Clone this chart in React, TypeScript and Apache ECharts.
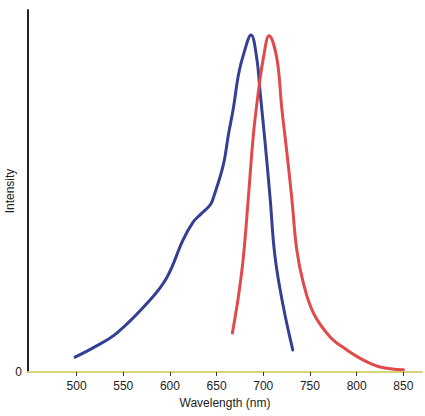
import React, { useEffect, useRef } from "react";
import * as echarts from "echarts";

const blueWavelength = [498.4, 520.0, 543.4, 578.7, 596.9, 614.1, 624.8, 632.3, 643.0, 646.5, 657.2, 662.6, 668.0, 673.3, 678.7, 686.9, 693.0, 696.6, 701.9, 707.3, 712.6, 721.5, 731.6];
const blueIntensity = [4.1, 7.0, 10.8, 19.9, 26.2, 36.5, 41.4, 43.4, 46.1, 48.1, 57.2, 65.5, 72.9, 82.0, 87.6, 93.1, 86.7, 77.3, 63.5, 48.1, 31.8, 18.0, 6.1];

const redWavelength = [666.9, 673.3, 678.7, 684.0, 689.4, 694.7, 700.1, 706.2, 714.5, 719.8, 725.2, 730.5, 735.9, 742.9, 753.7, 771.6, 789.5, 807.2, 825.1, 850.1];
const redIntensity = [10.8, 20.7, 31.8, 48.1, 65.5, 77.3, 86.7, 92.9, 86.7, 72.9, 60.8, 48.1, 33.7, 24.6, 16.3, 9.7, 6.1, 3.3, 1.4, 0.6];

const xTicks = [500, 550, 600, 650, 700, 750, 800, 850];

export default function App() {
  const ref = useRef<HTMLDivElement>(null);
  useEffect(() => {
    const chart = echarts.init(ref.current!, null, { renderer: "svg" });
    const font = "'Liberation Sans', Arial, sans-serif";
    chart.setOption({
      animation: false,
      backgroundColor: "#ffffff",
      grid: { left: 28, top: 10, right: 3, bottom: 44, containLabel: false, outerBoundsMode: "none" },
      xAxis: {
        type: "value",
        min: 448,
        max: 870,
        name: "Wavelength (nm)",
        nameLocation: "middle",
        nameGap: 25,
        nameTextStyle: { fontFamily: font, fontSize: 12, color: "#222" },
        axisLine: { show: true, lineStyle: { color: "#d8d47c", width: 2 } },
        axisTick: { show: true, customValues: xTicks, length: 4, lineStyle: { color: "#333", width: 1 } },
        axisLabel: { customValues: xTicks, fontFamily: font, fontSize: 12, color: "#222", margin: 8 },
        splitLine: { show: false },
      },
      yAxis: {
        type: "value",
        min: 0,
        max: 100,
        interval: 100,
        name: "Intensity",
        nameLocation: "middle",
        nameGap: 12,
        nameMoveOverlap: false,
        nameTextStyle: { fontFamily: font, fontSize: 12, color: "#222" },
        axisLine: { show: true, lineStyle: { color: "#222", width: 2 } },
        axisTick: { show: false },
        axisLabel: {
          fontFamily: font,
          fontSize: 12,
          color: "#222",
          margin: 6,
          formatter: (v: number) => (v === 0 ? "0" : ""),
        },
        splitLine: { show: false },
      },
      series: [
        {
          type: "line",
          data: blueWavelength.map((w, i) => [w, blueIntensity[i]]),
          smooth: 0.4,
          showSymbol: false,
          lineStyle: { color: "#353f94", width: 3, cap: "round" },
        },
        {
          type: "line",
          data: redWavelength.map((w, i) => [w, redIntensity[i]]),
          smooth: 0.4,
          showSymbol: false,
          lineStyle: { color: "#e04a4a", width: 3, cap: "round" },
        },
      ],
    });
    return () => chart.dispose();
  }, []);
  return <div ref={ref} style={{ width: 425, height: 416, position: "absolute", left: 0, top: 0 }} />;
}
